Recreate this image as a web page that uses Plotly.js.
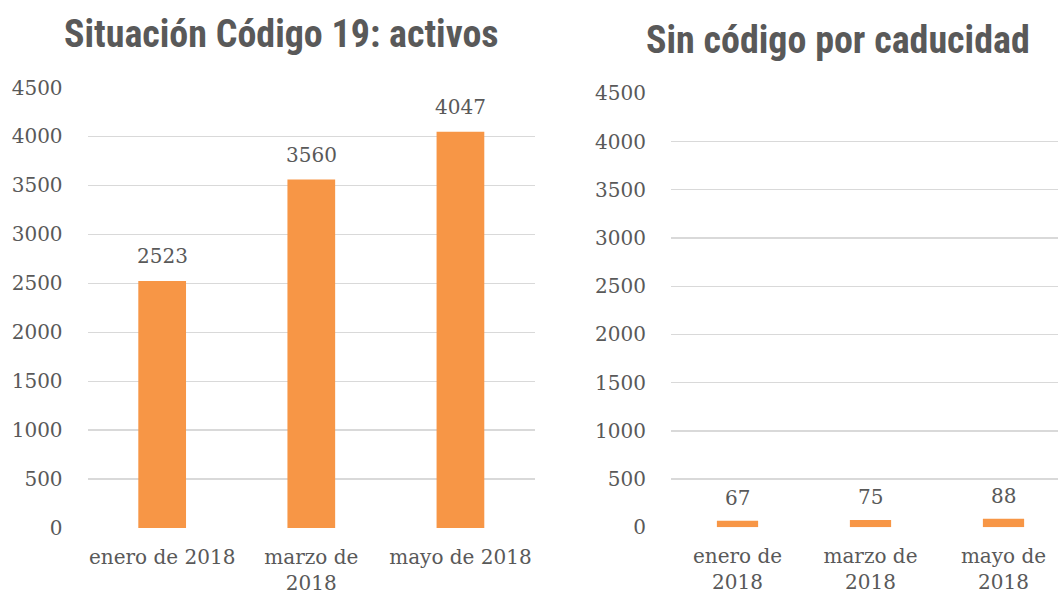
<!DOCTYPE html>
<html>
<head>
<meta charset="utf-8">
<script src="https://cdn.plot.ly/plotly-3.0.1.min.js"></script>
<style>html,body{margin:0;padding:0;background:#fff;}#chart{width:1058px;height:595px;}</style>
</head>
<body>
<div id="chart"></div>
<script>
// ---- data ----
const categories = ["enero de 2018", "marzo de 2018", "mayo de 2018"];
const leftTickText = ["enero de 2018", "marzo de<br>2018", "mayo de 2018"];
const rightTickText = ["enero de<br>2018", "marzo de<br>2018", "mayo de<br>2018"];
const activos = [2523, 3560, 4047];
const sinCodigo = [67, 75, 88];
const yTicks = [0, 500, 1000, 1500, 2000, 2500, 3000, 3500, 4000, 4500];
const leftTitle = "Situación Código 19: activos";
const rightTitle = "Sin código por caducidad";

// ---- styles ----
const W = 1058, H = 595;
const barColor = "#F79646";
const textColor = "#595959";
const gridColor = "#D9D9D9";
const serif = "'DejaVu Serif', 'Liberation Serif', serif";
const titleFont = {family: "'Roboto Condensed', 'Liberation Sans Narrow', 'Arial Narrow', 'DejaVu Sans Condensed', Roboto, sans-serif", size: 38, color: textColor, weight: 700};

const idx = categories.map((c, i) => i);

const traces = [
  {type: "bar", x: idx, y: activos, xaxis: "x", yaxis: "y", marker: {color: barColor}, width: 0.32, hoverinfo: "none"},
  {type: "bar", x: idx, y: sinCodigo, xaxis: "x2", yaxis: "y2", marker: {color: barColor}, width: 0.31, hoverinfo: "none"}
];

const labelAnn = (vals, xr, yr, shift) => vals.map((v, i) => ({
  x: i, y: v, xref: xr, yref: yr, text: String(v), showarrow: false,
  yanchor: "bottom", yshift: shift, font: {family: serif, size: 20, color: textColor}
}));

const yaxisBase = {
  range: [0, 4500], tickvals: yTicks, showgrid: true, gridcolor: gridColor, gridwidth: 1.3,
  zeroline: false, showline: false, ticks: "outside", ticklen: 20, tickcolor: "rgba(0,0,0,0)",
  tickfont: {family: serif, size: 20, color: textColor}, fixedrange: true
};
const xaxisBase = {
  showgrid: false, zeroline: false, showline: false, ticks: "outside", ticklen: 11,
  tickcolor: "rgba(0,0,0,0)", tickfont: {family: serif, size: 20, color: textColor}, fixedrange: true
};

const layout = {
  width: W, height: H, margin: {l: 0, r: 0, t: 0, b: 0},
  paper_bgcolor: "#fff", plot_bgcolor: "rgba(0,0,0,0)", showlegend: false,
  xaxis: Object.assign({}, xaxisBase, {domain: [87.6 / W, 535 / W], range: [-0.5, 2.5], tickvals: idx, ticktext: leftTickText, anchor: "y"}),
  yaxis: Object.assign({}, yaxisBase, {domain: [(H - 528) / H, (H - 87.5) / H], anchor: "x"}),
  xaxis2: Object.assign({}, xaxisBase, {domain: [671 / W, 1], range: [-0.5, -0.5 + 387 / 133], tickvals: idx, ticktext: rightTickText, anchor: "y2"}),
  yaxis2: Object.assign({}, yaxisBase, {domain: [(H - 527.3) / H, (H - 93.3) / H], anchor: "x2"}),
  annotations: [
    {text: leftTitle, xref: "paper", yref: "paper", x: 281 / W, y: (H - 34) / H, xanchor: "center", yanchor: "middle", showarrow: false, font: titleFont},
    {text: rightTitle, xref: "paper", yref: "paper", x: 838 / W, y: (H - 40) / H, xanchor: "center", yanchor: "middle", showarrow: false, font: titleFont}
  ].concat(labelAnn(activos, "x", "y", 11), labelAnn(sinCodigo, "x2", "y2", 9))
};

Plotly.newPlot("chart", traces, layout, {staticPlot: true, displayModeBar: false});
</script>
</body>
</html>
